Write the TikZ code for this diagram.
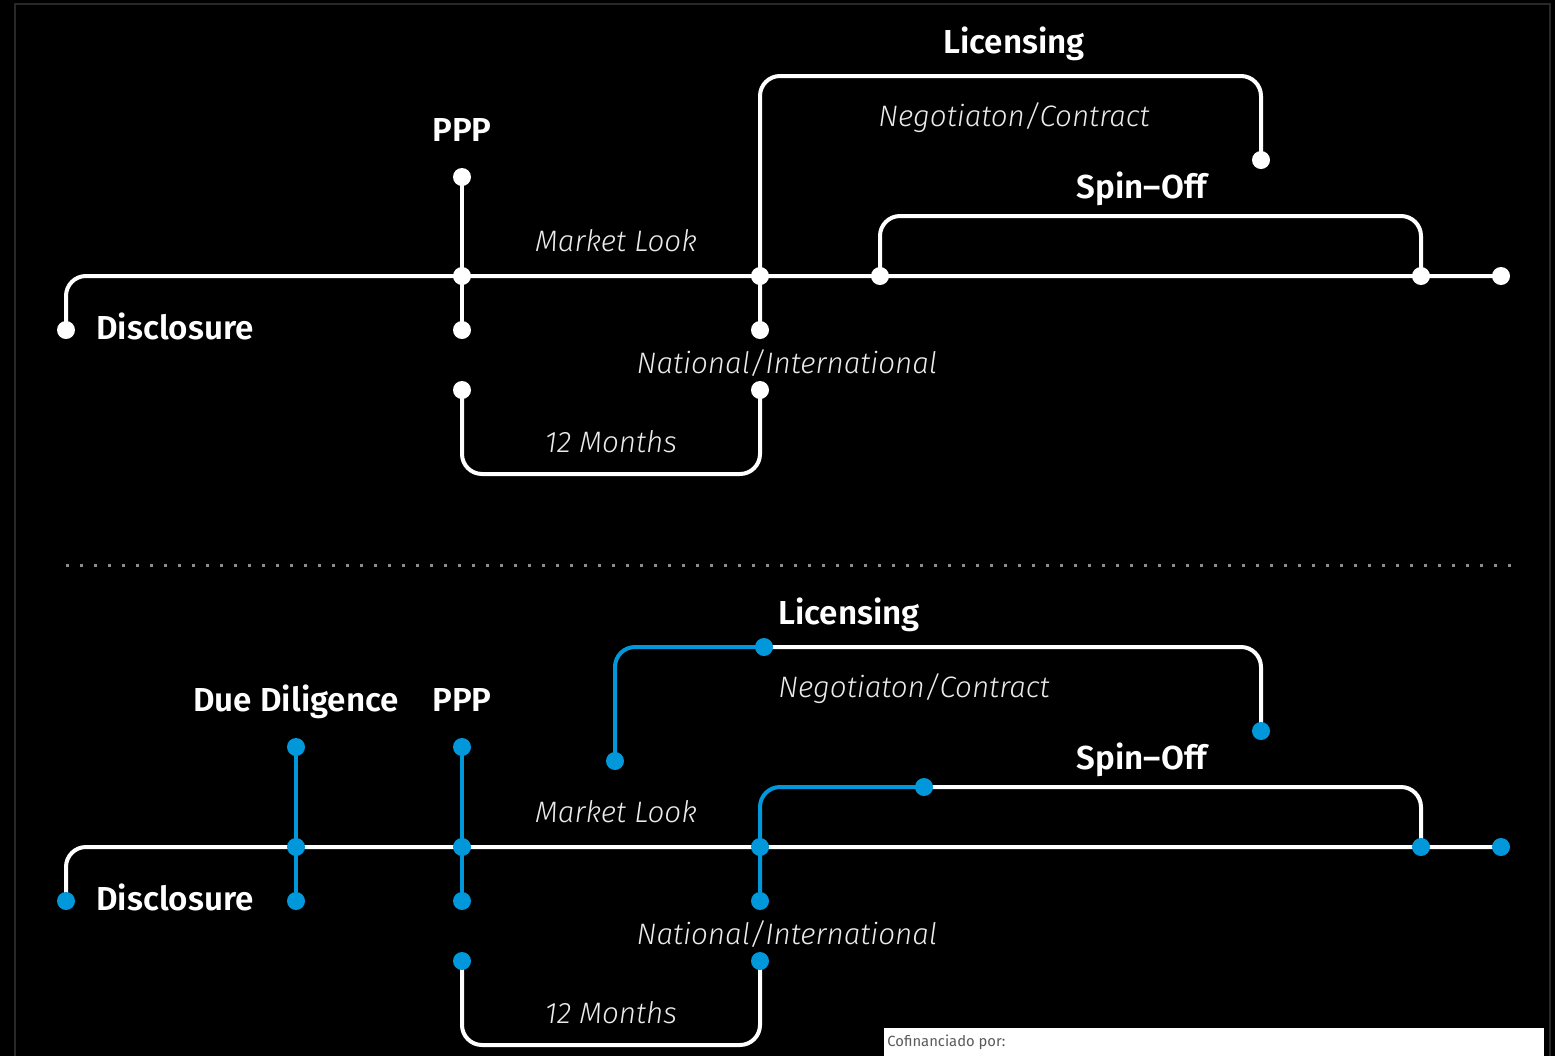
\documentclass[tikz,border=0pt]{standalone}
\usepackage{fontspec}
\setmainfont{Fira Sans}[BoldFont={Fira Sans SemiBold}, ItalicFont={Fira Sans Light Italic}]
\definecolor{tlblue}{RGB}{0,152,218}
\definecolor{framegray}{RGB}{40,40,40}
\definecolor{sepgray}{RGB}{140,140,140}
\definecolor{notegray}{RGB}{90,90,90}
\begin{document}
\begin{tikzpicture}[x=0.5pt,y=-0.5pt,
  wline/.style={draw=white, line width=2pt, rounded corners=10pt},
  bline/.style={draw=tlblue, line width=2pt, rounded corners=10pt},
  wdot/.style={circle, fill=white, minimum size=9pt, inner sep=0pt},
  bdot/.style={circle, fill=tlblue, minimum size=9pt, inner sep=0pt},
  head/.style={text=white, font=\bfseries\fontsize{16.6}{20}\selectfont, anchor=base, inner sep=0pt},
  sub/.style={text=white!92!black, font=\itshape\fontsize{14.8}{18}\selectfont, anchor=base, inner sep=0pt}]
\fill[black] (0,0) rectangle (1555,1056);
\useasboundingbox (0,0) rectangle (1555,1056);
% frame
\coordinate (fbl) at (15,1060);
\coordinate (ftl) at (15,4);
\coordinate (ftr) at (1550,4);
\coordinate (fbr) at (1550,1060);
\draw[framegray, line width=1.2pt] (fbl) -- (ftl) -- (ftr) -- (fbr);

% ================= TOP DIAGRAM =================
\coordinate (disc) at (66,330);
\coordinate (endA) at (1501,276);
\coordinate (pA1) at (462,177);
\coordinate (pA2) at (462,276);
\coordinate (pA3) at (462,330);
\coordinate (nA1) at (760,276);
\coordinate (nA2) at (760,330);
\coordinate (licTopA) at (1014,76);
\coordinate (licEndA) at (1261,160);
\coordinate (soA1) at (880,276);
\coordinate (soTopA) at (1142,216);
\coordinate (soA2) at (1421,276);
\coordinate (mA1) at (462,390);
\coordinate (mBotA) at (611,474);
\coordinate (mA2) at (760,390);

\draw[wline] (disc) |- (endA);
\draw[wline] (pA1) -- (pA3);
\draw[wline] (nA2) |- (licTopA) -| (licEndA);
\draw[wline] (soA1) |- (soTopA) -| (soA2);
\draw[wline] (mA1) |- (mBotA) -| (mA2);

\foreach \p in {disc,endA,pA1,pA2,pA3,nA1,nA2,licEndA,soA1,soA2,mA1,mA2}
  \node[wdot] (d-\p) at (\p) {};

\node[head] (tLicA) at (1014,53) {Licensing};
\node[sub]  (tNegA) at (1014,126) {Negotiaton/Contract};
\node[head] (tPPPA) at (462,141) {PPP};
\node[head] (tSpinA) at (1142,198) {Spin–Off};
\node[sub]  (tMktA) at (616,251) {Market Look};
\node[head, anchor=base west] (tDiscA) at (96,339) {Disclosure};
\node[sub]  (tNatA) at (787,373) {National/International};
\node[sub]  (tMonA) at (611,452) {12 Months};

% separator
\coordinate (sepL) at (66,565);
\coordinate (sepR) at (1514,565);
\draw[sepgray, line width=1.5pt, dash pattern=on 1.5pt off 5.5pt] (sepL) -- (sepR);

% ================= BOTTOM DIAGRAM =================
\coordinate (discB) at (66,901);
\coordinate (endB) at (1501,847);
\coordinate (dd1) at (296,747);
\coordinate (dd2) at (296,847);
\coordinate (dd3) at (296,901);
\coordinate (pB1) at (462,747);
\coordinate (pB2) at (462,847);
\coordinate (pB3) at (462,901);
\coordinate (nB1) at (760,847);
\coordinate (nB2) at (760,901);
\coordinate (mlB) at (615,761);
\coordinate (licMidB) at (764,647);
\coordinate (licEndB) at (1261,731);
\coordinate (soMidB) at (924,787);
\coordinate (soB2) at (1421,847);
\coordinate (mB1) at (462,961);
\coordinate (mBotB) at (611,1045);
\coordinate (mB2) at (760,961);

\draw[wline] (discB) |- (endB);
\draw[wline] (licMidB) -| (licEndB);
\draw[wline] (soMidB) -| (soB2);
\draw[wline] (mB1) |- (mBotB) -| (mB2);
\draw[bline] (mlB) |- (licMidB);
\draw[bline] (nB2) |- (soMidB);
\draw[bline] (dd1) -- (dd3);
\draw[bline] (pB1) -- (pB3);

\foreach \p in {discB,endB,dd1,dd2,dd3,pB1,pB2,pB3,nB1,nB2,mlB,licMidB,licEndB,soMidB,soB2,mB1,mB2}
  \node[bdot] (d-\p) at (\p) {};

\node[head] (tLicB) at (849,624) {Licensing};
\node[sub]  (tNegB) at (914,697) {Negotiaton/Contract};
\node[head] (tDDB) at (296,711) {Due Diligence};
\node[head] (tPPPB) at (462,711) {PPP};
\node[head] (tSpinB) at (1142,769) {Spin–Off};
\node[sub]  (tMktB) at (616,822) {Market Look};
\node[head, anchor=base west] (tDiscB) at (96,910) {Disclosure};
\node[sub]  (tNatB) at (787,944) {National/International};
\node[sub]  (tMonB) at (611,1023) {12 Months};

% co-financing box
\fill[white] (884,1028) rectangle (1544,1060);
\node[anchor=base west, inner sep=0pt, text=notegray, font=\fontsize{7.4}{9}\selectfont] (cof) at (887,1046) {Cofinanciado por:};
\end{tikzpicture}
\end{document}
